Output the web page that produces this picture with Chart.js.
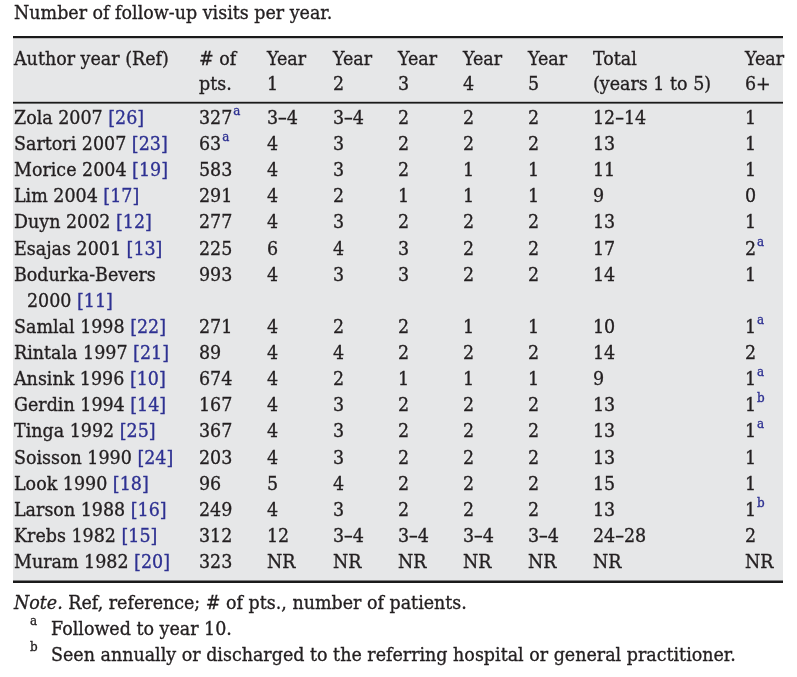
<!DOCTYPE html>
<html>
<head>
<meta charset="utf-8">
<script src="https://cdn.jsdelivr.net/npm/chart.js@4/dist/chart.umd.min.js"></script>
<style>
  html, body { margin: 0; padding: 0; background: #fff; }
</style>
</head>
<body>
<canvas id="table1" width="797" height="677"></canvas>
<script>
// table text
const title = 'Number of follow-up visits per year.';
const headers = [['Author year (Ref)'], ['# of', 'pts.'], ['Year', '1'], ['Year', '2'], ['Year', '3'],
    ['Year', '4'], ['Year', '5'], ['Total', '(years 1 to 5)'], ['Year', '6+']];

const authors = ['Zola 2007', 'Sartori 2007', 'Morice 2004', 'Lim 2004', 'Duyn 2002', 'Esajas 2001',
    'Bodurka-Bevers\n2000', 'Samlal 1998', 'Rintala 1997', 'Ansink 1996', 'Gerdin 1994', 'Tinga 1992',
    'Soisson 1990', 'Look 1990', 'Larson 1988', 'Krebs 1982', 'Muram 1982'];
const refs = [26, 23, 19, 17, 12, 13, 11, 22, 21, 10, 14, 25, 24, 18, 16, 15, 20];
const patients = ['327', '63', '583', '291', '277', '225', '993', '271', '89', '674', '167', '367',
    '203', '96', '249', '312', '323'];
const patientNotes = ['a', 'a', '', '', '', '', '', '', '', '', '', '', '', '', '', '', ''];
const year1 = ['3–4', '4', '4', '4', '4', '6', '4', '4', '4', '4', '4', '4', '4', '5', '4', '12', 'NR'];
const year2 = ['3–4', '3', '3', '2', '3', '4', '3', '2', '4', '2', '3', '3', '3', '4', '3', '3–4', 'NR'];
const year3 = ['2', '2', '2', '1', '2', '3', '3', '2', '2', '1', '2', '2', '2', '2', '2', '3–4', 'NR'];
const year4 = ['2', '2', '1', '1', '2', '2', '2', '1', '2', '1', '2', '2', '2', '2', '2', '3–4', 'NR'];
const year5 = ['2', '2', '1', '1', '2', '2', '2', '1', '2', '1', '2', '2', '2', '2', '2', '3–4', 'NR'];
const totals = ['12–14', '13', '11', '9', '13', '17', '14', '10', '14', '9', '13', '13', '13', '15', '13',
    '24–28', 'NR'];
const year6 = ['1', '1', '1', '0', '1', '2', '1', '1', '2', '1', '1', '1', '1', '1', '1', '2', 'NR'];
const year6Notes = ['', '', '', '', '', 'a', '', 'a', '', 'a', 'b', 'a', '', '', 'b', '', ''];

const noteLead = 'Note.';
const noteText = ' Ref, reference; # of pts., number of patients.';
const footMarks = ['a', 'b'];
const footTexts = ['Followed to year 10.', 'Seen annually or discharged to the referring hospital or general practitioner.'];

// layout (pixels)
const colLeft = [14, 199, 267, 333, 398, 463, 528, 593, 745];
const headBase = [65, 90];
const firstBase = 124;
const pitch = 26.12;
const ink = '#231f20';
const linkInk = '#2e3192';
const fontFam = '"DejaVu Serif", serif';
const hScale = 0.92;

const columns = [authors, patients, year1, year2, year3, year4, year5, totals, year6];
const sups = [null, patientNotes, null, null, null, null, null, null, year6Notes];

// line index of each row (wrapped authors take more lines)
const rowLine = [];
let ln = 0;
authors.forEach(a => { rowLine.push(ln); ln += a.split('\n').length; });

function txt(ctx, s, x, y, size, color, style) {
    ctx.save();
    ctx.font = (style || '') + ' ' + size + 'px ' + fontFam;
    ctx.fillStyle = color;
    ctx.strokeStyle = color;
    ctx.lineWidth = 0.35;
    ctx.textBaseline = 'alphabetic';
    ctx.translate(x, y);
    ctx.scale(hScale, 1);
    ctx.fillText(s, 0, 0);
    ctx.strokeText(s, 0, 0);
    const w = ctx.measureText(s).width * hScale;
    ctx.restore();
    return w;
}

const tablePlugin = {
    id: 'tablePlugin',
    beforeDatasetsDraw(chart) {
        const ctx = chart.ctx;
        const xs = chart.scales.x, ys = chart.scales.y;
        const X = v => xs.getPixelForValue(v), Y = v => ys.getPixelForValue(v);
        ctx.fillStyle = '#e6e7e8';
        ctx.fillRect(X(13), Y(37), X(783) - X(13), Y(582) - Y(37));
        ctx.fillStyle = '#1a1a1a';
        ctx.fillRect(X(13), Y(36), X(783) - X(13), 2.2);
        ctx.fillRect(X(13), Y(101.8), X(783) - X(13), 1.8);
        ctx.fillRect(X(13), Y(580.5), X(783) - X(13), 2.5);
    },
    afterDatasetsDraw(chart) {
        const ctx = chart.ctx;
        const xs = chart.scales.x, ys = chart.scales.y;
        const X = v => xs.getPixelForValue(v), Y = v => ys.getPixelForValue(v);
        const fs = 19;
        txt(ctx, title, X(14), Y(19), fs, ink);
        headers.forEach((h, c) => {
            h.forEach((s, k) => txt(ctx, s, X(colLeft[c]), Y(headBase[k]), fs, ink));
        });
        chart.data.datasets.forEach((ds, c) => {
            const meta = chart.getDatasetMeta(c);
            meta.data.forEach((pt, r) => {
                const x = pt.x, y = pt.y;
                if (c === 0) {
                    const parts = authors[r].split('\n');
                    parts.forEach((p, k) => {
                        const xx = k ? x + 13 : x;
                        const yy = y + k * (Y(pitch) - Y(0));
                        let w = txt(ctx, p, xx, yy, fs, ink);
                        if (k === parts.length - 1) {
                            w += txt(ctx, ' ', xx + w, yy, fs, ink);
                            txt(ctx, '[' + refs[r] + ']', xx + w, yy, fs, linkInk);
                        }
                    });
                } else {
                    const w = txt(ctx, ds.labels[r], x, y, fs, ink);
                    const s = sups[c] && sups[c][r];
                    if (s) txt(ctx, s, x + w + 1, y - 9, 13, linkInk);
                }
            });
        });
        const nb = 609;
        let w = txt(ctx, noteLead, X(14), Y(nb), fs, ink, 'italic');
        txt(ctx, noteText, X(14) + w, Y(nb), fs, ink);
        footMarks.forEach((m, k) => {
            const yy = Y(nb + 26 * (k + 1));
            txt(ctx, m, X(30), yy - 10, 13, ink);
            txt(ctx, footTexts[k], X(51), yy, fs, ink);
        });
    }
};

new Chart(document.getElementById('table1').getContext('2d'), {
    type: 'scatter',
    data: {
        datasets: columns.map((col, c) => ({
            label: headers[c].join(' '),
            labels: col,
            data: col.map((v, r) => ({ x: colLeft[c], y: firstBase + rowLine[r] * pitch })),
            pointRadius: 0,
            pointHoverRadius: 0
        }))
    },
    options: {
        responsive: false,
        animation: false,
        events: [],
        layout: { padding: 0 },
        scales: {
            x: { type: 'linear', min: 0, max: 797, display: false },
            y: { type: 'linear', min: 0, max: 677, reverse: true, display: false }
        },
        plugins: {
            legend: { display: false },
            tooltip: { enabled: false }
        }
    },
    plugins: [tablePlugin]
});
</script>
</body>
</html>
